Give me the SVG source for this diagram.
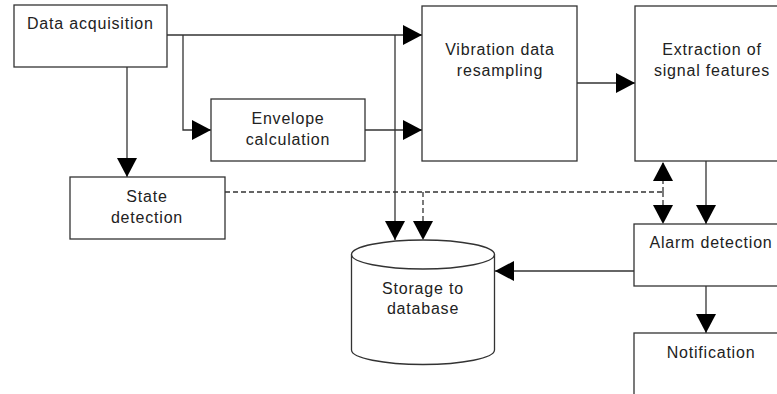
<svg xmlns="http://www.w3.org/2000/svg" width="777" height="394" viewBox="0 0 777 394">
<style>
.box{fill:#fff;stroke:#333;stroke-width:1.3}
.ln{fill:none;stroke:#333;stroke-width:1.3}
.dash{stroke-dasharray:5 3}
text{font-family:"Liberation Sans",Arial,sans-serif;font-size:16px;letter-spacing:0.8px;fill:#222;text-anchor:middle}
</style>
<defs>
<marker id="ah" markerUnits="userSpaceOnUse" markerWidth="19" markerHeight="20" refX="19" refY="10" orient="auto" viewBox="0 0 19 20">
<path d="M0,0 L19,10 L0,20 z" fill="#000"/>
</marker>
</defs>
<rect width="777" height="394" fill="#fff"/>
<g id="connectors">
<path class="ln" d="M167,35 H422" marker-end="url(#ah)"/>
<path class="ln" d="M183,35 V130 H211" marker-end="url(#ah)"/>
<path class="ln" d="M365,130 H422" marker-end="url(#ah)"/>
<path class="ln" d="M395,35 V240" marker-end="url(#ah)"/>
<path class="ln" d="M127,67 V177" marker-end="url(#ah)"/>
<path class="ln dash" d="M225,192 H663"/>
<path class="ln dash" d="M663,192 V162" marker-end="url(#ah)"/>
<path class="ln dash" d="M663,192 V224" marker-end="url(#ah)"/>
<path class="ln dash" d="M423,192 V240" marker-end="url(#ah)"/>
<path class="ln" d="M577,83 H635" marker-end="url(#ah)"/>
<path class="ln" d="M706,161 V224" marker-end="url(#ah)"/>
<path class="ln" d="M634,271 H495" marker-end="url(#ah)"/>
<path class="ln" d="M706,286 V333" marker-end="url(#ah)"/>
</g>
<g id="data-acquisition">
<rect class="box" x="14" y="5" width="153" height="62"/>
<text x="27" y="29" style="text-anchor:start">Data acquisition</text>
</g>
<g id="envelope-calculation">
<rect class="box" x="211" y="99" width="154" height="62"/>
<text x="288" y="124">Envelope</text>
<text x="288" y="145">calculation</text>
</g>
<g id="vibration-resampling">
<rect class="box" x="422" y="6" width="155" height="155"/>
<text x="500" y="55">Vibration data</text>
<text x="500" y="76">resampling</text>
</g>
<g id="extraction">
<rect class="box" x="635" y="6" width="160" height="155"/>
<text x="712" y="55">Extraction of</text>
<text x="712" y="76">signal features</text>
</g>
<g id="state-detection">
<rect class="box" x="70" y="177" width="155" height="62"/>
<text x="147" y="202">State</text>
<text x="147" y="223">detection</text>
</g>
<g id="storage">
<path class="box" d="M351.5,254.5 V350 A71.5,14.5 0 0 0 494.5,350 V254.5 A71.5,14.5 0 0 0 351.5,254.5 Z"/>
<path class="ln" d="M351.5,254.5 A71.5,14.5 0 0 0 494.5,254.5"/>
<text x="423" y="294">Storage to</text>
<text x="423" y="314">database</text>
</g>
<g id="alarm-detection">
<rect class="box" x="634" y="224" width="160" height="62"/>
<text x="711" y="248">Alarm detection</text>
</g>
<g id="notification">
<rect class="box" x="634" y="333" width="160" height="80"/>
<text x="711" y="358">Notification</text>
</g>
</svg>
